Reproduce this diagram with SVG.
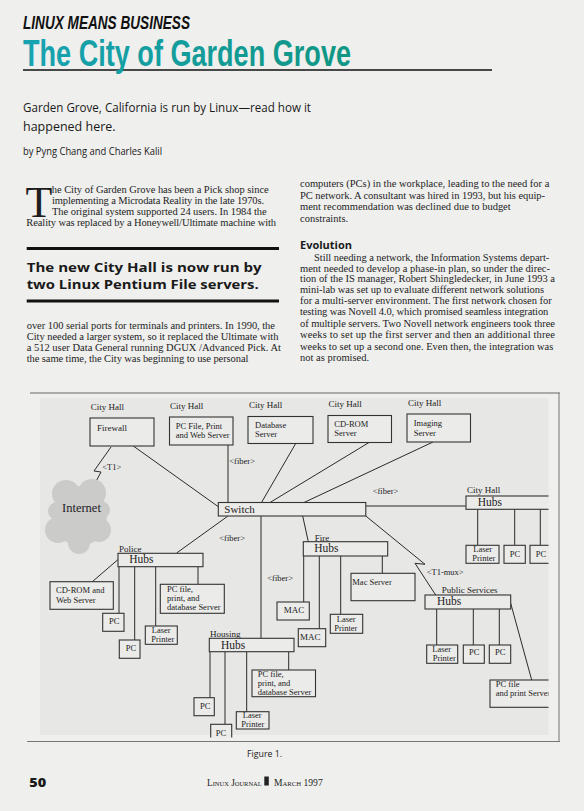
<svg xmlns="http://www.w3.org/2000/svg" width="584" height="811" viewBox="0 0 584 811">
<style>
.body{font-family:"Liberation Serif","Times New Roman",serif;font-size:10.5px;fill:#1e1e1e}
.sans{font-family:"Open Sans","Liberation Sans",sans-serif;fill:#1a1a1a}
.bx{fill:#ebebe9;stroke:#333;stroke-width:1.1}
.t{font-family:"Liberation Serif","Times New Roman",serif;font-size:8.5px;fill:#222}
.lb{font-family:"Liberation Serif","Times New Roman",serif;font-size:9px;fill:#222}
.ht{font-family:"Liberation Serif","Times New Roman",serif;font-size:11.5px;fill:#222}
.ln{stroke:#2b2b2b;stroke-width:1;fill:none}
</style>
<defs>
<linearGradient id="teal" x1="0" y1="0" x2="1" y2="0">
<stop offset="0" stop-color="#17a3b2"/>
<stop offset="1" stop-color="#0f9683"/>
</linearGradient>
<clipPath id="panelclip"><rect x="0" y="0" width="548.5" height="737.5"/></clipPath>
</defs>
<rect x="0" y="0" width="584" height="811" fill="#efefed"/>

<!-- header -->
<text x="23" y="29.3" font-family="'Liberation Sans',Arial,sans-serif" font-weight="bold" font-style="italic" font-size="18" textLength="167" lengthAdjust="spacingAndGlyphs" fill="#111">LINUX MEANS BUSINESS</text>
<line x1="23" y1="70" x2="492" y2="70" stroke="#111" stroke-width="1.6"/>
<text x="23" y="65.7" font-family="'Liberation Sans',Arial,sans-serif" font-weight="bold" font-size="36" textLength="328" lengthAdjust="spacingAndGlyphs" fill="url(#teal)">The City of Garden Grove</text>
<text class="sans" x="23" y="111.7" style="font-size:12.5px" textLength="288" lengthAdjust="spacingAndGlyphs">Garden Grove, California is run by Linux—read how it</text>
<text class="sans" x="23" y="130.7" style="font-size:12.5px">happened here.</text>
<text class="sans" x="23" y="155" style="font-size:10px" textLength="139" lengthAdjust="spacingAndGlyphs">by Pyng Chang and Charles Kalil</text>

<!-- left column -->
<text class="body" x="25.5" y="216.7" style="font-size:44px">T</text>
<text class="body" x="51.7" y="192.7" textLength="217" lengthAdjust="spacing">he City of Garden Grove has been a Pick shop since</text>
<text class="body" x="52" y="204" textLength="212" lengthAdjust="spacing">implementing a Microdata Reality in the late 1970s.</text>
<text class="body" x="52" y="214.7" textLength="214.7" lengthAdjust="spacing">The original system supported 24 users. In 1984 the</text>
<text class="body" x="26.3" y="225.7" textLength="249.7" lengthAdjust="spacing">Reality was replaced by a Honeywell/Ultimate machine with</text>
<rect x="26.7" y="247" width="252.3" height="3" fill="#111"/>
<text class="sans" x="26.7" y="271.7" style="font-size:13px;font-weight:bold" textLength="235" lengthAdjust="spacingAndGlyphs">The new City Hall is now run by</text>
<text class="sans" x="26.7" y="289.3" style="font-size:13px;font-weight:bold" textLength="232" lengthAdjust="spacingAndGlyphs">two Linux Pentium File servers.</text>
<rect x="26.7" y="299.5" width="252.3" height="3" fill="#111"/>
<text class="body" x="26.7" y="329.3" textLength="248.3" lengthAdjust="spacing">over 100 serial ports for terminals and printers. In 1990, the</text>
<text class="body" x="26.7" y="340.3" textLength="251.7" lengthAdjust="spacing">City needed a larger system, so it replaced the Ultimate with</text>
<text class="body" x="26.7" y="351.3" textLength="254.3" lengthAdjust="spacing">a 512 user Data General running DGUX /Advanced Pick. At</text>
<text class="body" x="26.7" y="362.3" textLength="221.7" lengthAdjust="spacing">the same time, the City was beginning to use personal</text>

<!-- right column -->
<text class="body" x="300" y="187.3" textLength="249.3" lengthAdjust="spacing">computers (PCs) in the workplace, leading to the need for a</text>
<text class="body" x="300" y="198.7" textLength="245" lengthAdjust="spacing">PC network. A consultant was hired in 1993, but his equip-</text>
<text class="body" x="300" y="210.3" textLength="210.7" lengthAdjust="spacing">ment recommendation was declined due to budget</text>
<text class="body" x="300" y="222.3">constraints.</text>
<text class="sans" x="300" y="249.3" style="font-size:11px;font-weight:bold" textLength="52" lengthAdjust="spacingAndGlyphs">Evolution</text>
<text class="body" x="314" y="260.7" textLength="235.3" lengthAdjust="spacing">Still needing a network, the Information Systems depart-</text>
<text class="body" x="300" y="271.7" textLength="250" lengthAdjust="spacing">ment needed to develop a phase-in plan, so under the direc-</text>
<text class="body" x="300" y="282.3" textLength="255" lengthAdjust="spacing">tion of the IS manager, Robert Shingledecker, in June 1993 a</text>
<text class="body" x="300" y="293.3" textLength="244" lengthAdjust="spacing">mini-lab was set up to evaluate different network solutions</text>
<text class="body" x="300" y="304" textLength="251.7" lengthAdjust="spacing">for a multi-server environment. The first network chosen for</text>
<text class="body" x="300" y="315.3" textLength="248.3" lengthAdjust="spacing">testing was Novell 4.0, which promised seamless integration</text>
<text class="body" x="300" y="326.7" textLength="255" lengthAdjust="spacing">of multiple servers. Two Novell network engineers took three</text>
<text class="body" x="300" y="338.3" textLength="255" lengthAdjust="spacing">weeks to set up the first server and then an additional three</text>
<text class="body" x="300" y="350" textLength="253.3" lengthAdjust="spacing">weeks to set up a second one. Even then, the integration was</text>
<text class="body" x="300" y="361.3">not as promised.</text>

<!-- figure frame -->
<rect x="40" y="398" width="508.5" height="337" fill="#e7e7e5"/>
<line x1="30" y1="393" x2="560" y2="393" stroke="#666" stroke-width="1.2"/>
<line x1="559" y1="393" x2="559" y2="741" stroke="#888" stroke-width="1.2"/>
<line x1="27" y1="741.5" x2="560" y2="741.5" stroke="#777" stroke-width="1.2"/>

<!-- connectors -->
<g id="connectors">
<polyline class="ln" points="111,447 94,471 101,472 93,487"/>
<line class="ln" x1="133.3" y1="446" x2="218.3" y2="506.7"/>
<line class="ln" x1="228" y1="445" x2="228" y2="502.5"/>
<line class="ln" x1="295.7" y1="443.5" x2="261.5" y2="502.5"/>
<line class="ln" x1="369" y1="442.5" x2="270" y2="502.5"/>
<line class="ln" x1="433" y1="442" x2="304" y2="502.5"/>
<line class="ln" x1="365.8" y1="506" x2="466" y2="506"/>
<line class="ln" x1="228" y1="516" x2="176.6" y2="553"/>
<line class="ln" x1="261" y1="516" x2="261" y2="638.3"/>
<line class="ln" x1="302.7" y1="516" x2="308.3" y2="541.7"/>
<polyline class="ln" points="365.8,516 425,564.3 415,563.3 435.7,595"/>
<line class="ln" x1="477.7" y1="509.3" x2="477.7" y2="545.3"/>
<line class="ln" x1="514.7" y1="509.3" x2="514.7" y2="545.3"/>
<line class="ln" x1="540.3" y1="509.3" x2="540.3" y2="545.3"/>
<line class="ln" x1="118.3" y1="559.3" x2="92.3" y2="581.7"/>
<line class="ln" x1="119" y1="566.7" x2="119" y2="613.3"/>
<line class="ln" x1="134.7" y1="566.7" x2="134.7" y2="640"/>
<line class="ln" x1="155.7" y1="566.7" x2="155.7" y2="626"/>
<line class="ln" x1="198" y1="566.7" x2="198" y2="584.3"/>
<line class="ln" x1="210" y1="651.7" x2="210" y2="697.7"/>
<line class="ln" x1="225" y1="651.7" x2="225" y2="724.3"/>
<line class="ln" x1="246.7" y1="651.7" x2="246.7" y2="711.7"/>
<line class="ln" x1="288.7" y1="651.7" x2="288.7" y2="670"/>
<line class="ln" x1="303.7" y1="556" x2="303.7" y2="602"/>
<line class="ln" x1="319.3" y1="556" x2="319.3" y2="628.7"/>
<line class="ln" x1="340.7" y1="556" x2="340.7" y2="614.3"/>
<line class="ln" x1="382.3" y1="556" x2="382.3" y2="573.3"/>
<line class="ln" x1="436.7" y1="609" x2="436.7" y2="645"/>
<line class="ln" x1="473.3" y1="609" x2="473.3" y2="645"/>
<line class="ln" x1="499.3" y1="609" x2="499.3" y2="645"/>
<line class="ln" x1="510.7" y1="603.3" x2="531.7" y2="680"/>
<text class="t" x="102.3" y="470">&lt;T1&gt;</text>
<text class="t" x="229.3" y="463.5">&lt;fiber&gt;</text>
<text class="t" x="372.7" y="494.3">&lt;fiber&gt;</text>
<text class="t" x="219.3" y="541">&lt;fiber&gt;</text>
<text class="t" x="267.3" y="581">&lt;fiber&gt;</text>
<text class="t" x="426.7" y="575">&lt;T1-mux&gt;</text>
</g>

<!-- City Hall servers -->
<g id="firewall">
<text class="lb" x="90.8" y="410">City Hall</text>
<rect class="bx" x="90" y="418" width="64" height="28"/>
<text class="t" x="97" y="431" style="font-size:9px">Firewall</text>
</g>
<g id="pcfile-web">
<text class="lb" x="170" y="409">City Hall</text>
<rect class="bx" x="169.5" y="417" width="63.5" height="28"/>
<text class="t" x="175.7" y="429.3">PC File, Print</text>
<text class="t" x="175.7" y="437.9">and Web Server</text>
</g>
<g id="database">
<text class="lb" x="249" y="408">City Hall</text>
<rect class="bx" x="248" y="416.5" width="65" height="27"/>
<text class="t" x="255" y="427.5">Database</text>
<text class="t" x="255" y="436.9">Server</text>
</g>
<g id="cdrom">
<text class="lb" x="328.6" y="407">City Hall</text>
<rect class="bx" x="328" y="415.5" width="63.5" height="27"/>
<text class="t" x="334.3" y="426.7">CD-ROM</text>
<text class="t" x="334.3" y="436">Server</text>
</g>
<g id="imaging">
<text class="lb" x="408" y="406">City Hall</text>
<rect class="bx" x="407" y="414" width="63.5" height="28"/>
<text class="t" x="413.7" y="426.2">Imaging</text>
<text class="t" x="413.7" y="435.5">Server</text>
</g>

<g id="internet">
<g fill="#cbcbca">
<ellipse cx="80" cy="516" rx="27" ry="30"/>
<circle cx="66" cy="494" r="14"/>
<circle cx="92" cy="493" r="14"/>
<circle cx="58" cy="530" r="13"/>
<circle cx="99" cy="530" r="12"/>
<circle cx="79" cy="543" r="11"/>
<circle cx="101" cy="510" r="9"/>
<circle cx="57" cy="511" r="9"/>
</g>
<text x="62" y="511.5" font-family="'Liberation Serif','Times New Roman',serif" font-size="12.5" fill="#222">Internet</text>
</g>

<g id="switch">
<rect class="bx" x="218.3" y="502.5" width="147.5" height="13.5"/>
<text x="224.3" y="512.5" font-family="'Liberation Serif','Times New Roman',serif" font-size="11" fill="#222">Switch</text>
</g>

<!-- clipped at the panel edge -->
<g clip-path="url(#panelclip)">
<g id="cityhall-hubs">
<text class="lb" x="467" y="493.3">City Hall</text>
<rect class="bx" x="466" y="496" width="90" height="13.3"/>
<text class="ht" x="477.7" y="505.5">Hubs</text>
</g>
<g id="cityhall-laser">
<rect class="bx" x="466" y="545.3" width="33" height="18"/>
<text class="t" x="473.3" y="552.3">Laser</text>
<text class="t" x="472.3" y="561">Printer</text>
</g>
<g id="cityhall-pc1">
<rect class="bx" x="504" y="545.3" width="21.3" height="18"/>
<text class="t" x="509.7" y="557.3">PC</text>
</g>
<g id="cityhall-pc2">
<rect class="bx" x="530" y="545.3" width="22" height="18"/>
<text class="t" x="535.7" y="557.3">PC</text>
</g>
<g id="ps-pcfile">
<rect class="bx" x="490" y="680" width="66" height="27.3"/>
<text class="t" x="495.7" y="686.7">PC file</text>
<text class="t" x="495.7" y="696">and print Server</text>
</g>
<g id="housing-pc2">
<rect class="bx" x="210.7" y="724.3" width="21" height="18"/>
<text class="t" x="215.7" y="736">PC</text>
</g>
</g>

<!-- Police -->
<g id="police-hubs">
<text class="lb" x="119" y="551.7">Police</text>
<rect class="bx" x="118" y="553.3" width="85" height="13.4"/>
<text class="ht" x="129.3" y="563.3">Hubs</text>
</g>
<g id="police-cdrom">
<rect class="bx" x="50" y="581.7" width="63.3" height="27.6"/>
<text class="t" x="56" y="593.3">CD-ROM and</text>
<text class="t" x="56" y="602.7">Web Server</text>
</g>
<g id="police-pc1">
<rect class="bx" x="102.7" y="613.3" width="21.3" height="18"/>
<text class="t" x="109" y="624.3">PC</text>
</g>
<g id="police-pc2">
<rect class="bx" x="119.3" y="640" width="20.7" height="18.3"/>
<text class="t" x="125.7" y="651">PC</text>
</g>
<g id="police-laser">
<rect class="bx" x="145.3" y="626" width="32" height="18.3"/>
<text class="t" x="151.7" y="632.7">Laser</text>
<text class="t" x="151.3" y="642.3">Printer</text>
</g>
<g id="police-pcfile">
<rect class="bx" x="160.3" y="584.3" width="64" height="29"/>
<text class="t" x="167" y="592.3">PC file,</text>
<text class="t" x="167" y="601">print, and</text>
<text class="t" x="167" y="610">database Server</text>
</g>

<!-- Housing -->
<g id="housing-hubs">
<text class="lb" x="210" y="637">Housing</text>
<rect class="bx" x="209.3" y="638.3" width="84.7" height="13.4"/>
<text class="ht" x="221" y="648.5">Hubs</text>
</g>
<g id="housing-pcfile">
<rect class="bx" x="252" y="670" width="63.5" height="26.7"/>
<text class="t" x="257.7" y="676.7">PC file,</text>
<text class="t" x="257.7" y="686">print, and</text>
<text class="t" x="257.7" y="695">database Server</text>
</g>
<g id="housing-pc1">
<rect class="bx" x="194" y="697.7" width="20.3" height="18"/>
<text class="t" x="200" y="709.3">PC</text>
</g>
<g id="housing-laser">
<rect class="bx" x="236.3" y="711.7" width="32.7" height="17.3"/>
<text class="t" x="242.7" y="718">Laser</text>
<text class="t" x="241.3" y="727">Printer</text>
</g>

<!-- Fire -->
<g id="fire-hubs">
<text class="lb" x="314.7" y="540.7">Fire</text>
<rect class="bx" x="303.3" y="541.7" width="84.4" height="14.3"/>
<text class="ht" x="314.3" y="552.3">Hubs</text>
</g>
<g id="fire-mac1">
<rect class="bx" x="277" y="602" width="32.3" height="18"/>
<text class="t" x="283.7" y="613.3" style="font-size:9px">MAC</text>
</g>
<g id="fire-mac2">
<rect class="bx" x="298.3" y="628.7" width="27.4" height="18"/>
<text class="t" x="300" y="640" style="font-size:9px">MAC</text>
</g>
<g id="fire-laser">
<rect class="bx" x="330.3" y="614.3" width="32.4" height="19"/>
<text class="t" x="336.7" y="621.7">Laser</text>
<text class="t" x="334.3" y="630.7">Printer</text>
</g>
<g id="fire-macserver">
<rect class="bx" x="351" y="573.3" width="64" height="27.4"/>
<text class="t" x="352.3" y="585">Mac Server</text>
</g>

<!-- Public Services -->
<g id="ps-hubs">
<text class="lb" x="441.7" y="592.7">Public Services</text>
<rect class="bx" x="425" y="595" width="85.7" height="14"/>
<text class="ht" x="437" y="604.5">Hubs</text>
</g>
<g id="ps-laser">
<rect class="bx" x="426.7" y="645" width="31" height="18.3"/>
<text class="t" x="432.3" y="651.7">Laser</text>
<text class="t" x="432.7" y="660.7">Printer</text>
</g>
<g id="ps-pc1">
<rect class="bx" x="463.3" y="645" width="21" height="18.3"/>
<text class="t" x="469" y="655">PC</text>
</g>
<g id="ps-pc2">
<rect class="bx" x="489.3" y="645" width="21.4" height="18.3"/>
<text class="t" x="495" y="655">PC</text>
</g>

<!-- footer -->
<text class="sans" x="247" y="756.7" style="font-size:9.5px" textLength="35" lengthAdjust="spacingAndGlyphs">Figure 1.</text>
<text class="sans" x="29.3" y="787.3" style="font-size:11.5px;font-weight:900" textLength="17" lengthAdjust="spacingAndGlyphs">50</text>
<text class="body" x="207" y="785.7" style="font-size:10px;font-variant:small-caps" textLength="54.7" lengthAdjust="spacingAndGlyphs">Linux Journal</text>
<rect x="264.3" y="776.5" width="4.5" height="9" fill="#222"/>
<text class="body" x="274" y="785.7" style="font-size:10px;font-variant:small-caps" textLength="48.7" lengthAdjust="spacingAndGlyphs">March 1997</text>
</svg>
